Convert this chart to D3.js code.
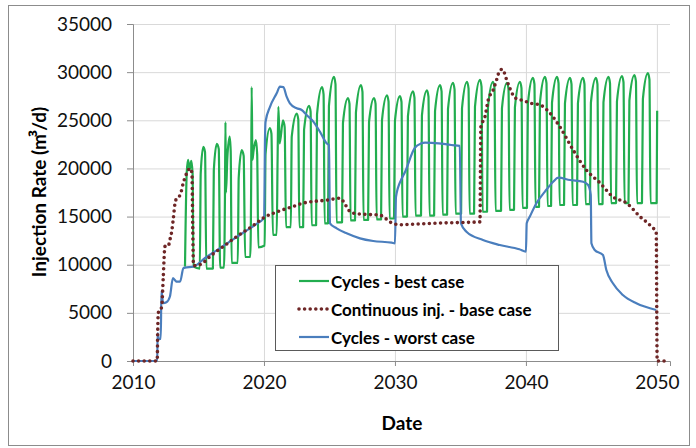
<!DOCTYPE html>
<html>
<head>
<meta charset="utf-8">
<script src="https://cdn.jsdelivr.net/npm/d3@7/dist/d3.min.js"></script>
<style>
  body { margin: 0; background: #fff; }
  text { font-family: Lato, "Open Sans", sans-serif; }
</style>
</head>
<body>
<svg width="696" height="448"></svg>
<script>
// Cycles - best case : [year, m3/d], one row per injection cycle
var bestCase = [
  [2013.97,9800],[2014.1,19500],[2014.2,20900],[2014.33,19900],[2014.45,20800],[2014.55,19500],[2014.62,9800],
  [2015.1,9600],[2015.17,19500],[2015.37,22250],[2015.5,21700],[2015.6,9600],
  [2016.1,9600],[2016.17,19800],[2016.4,22550],[2016.55,22000],[2016.65,9700],
  [2016.95,9700],[2017.02,17000],[2017.06,24800],[2017.1,17500],[2017.2,21000],[2017.38,23300],[2017.46,21800],[2017.53,10200],
  [2018.0,10200],[2018.07,19000],[2018.3,21900],[2018.45,21300],[2018.56,10800],
  [2018.95,10800],[2019.02,18000],[2019.06,28450],[2019.12,20900],[2019.2,21800],[2019.38,22950],[2019.48,21500],[2019.57,11800],
  [2020.05,12000],[2020.12,21500],[2020.45,24200],[2020.57,23600],[2020.68,13100],
  [2020.97,13100],[2021.04,21000],[2021.1,26400],[2021.2,22600],[2021.45,25000],[2021.58,24300],[2021.68,13900],
  [2022.05,13900],[2022.12,23300],[2022.5,25700],[2022.62,25100],[2022.7,13900],
  [2022.99,13900],[2023.06,24000],[2023.44,26500],[2023.56,25900],[2023.64,14100],
  [2023.98,14100],[2024.05,25600],[2024.43,28450],[2024.55,27700],[2024.63,14300],
  [2024.89,14300],[2024.96,26500],[2025.34,29500],[2025.46,28750],[2025.54,14400],
  [2025.96,14400],[2026.03,24700],[2026.41,27300],[2026.53,26700],[2026.61,14600],
  [2026.95,14600],[2027.02,25800],[2027.4,28650],[2027.52,27950],[2027.6,14650],
  [2027.95,14650],[2028.02,24800],[2028.4,27300],[2028.52,26700],[2028.6,14700],
  [2028.94,14700],[2029.01,25000],[2029.39,27600],[2029.51,26950],[2029.59,14800],
  [2029.93,14800],[2030.0,24950],[2030.38,27500],[2030.5,26900],[2030.58,15000],
  [2030.92,15000],[2030.99,25400],[2031.37,28000],[2031.49,27350],[2031.57,15100],
  [2031.99,15100],[2032.06,25500],[2032.44,28100],[2032.56,27450],[2032.64,15100],
  [2032.99,15100],[2033.06,25950],[2033.44,28650],[2033.56,28000],[2033.64,15200],
  [2033.98,15200],[2034.05,26150],[2034.43,28900],[2034.55,28200],[2034.63,15300],
  [2035.05,15300],[2035.12,26250],[2035.5,29000],[2035.62,28300],[2035.7,15300],
  [2036.04,15300],[2036.11,26400],[2036.49,29200],[2036.61,28500],[2036.69,15500],
  [2037.03,15500],[2037.1,26300],[2037.48,29000],[2037.6,28350],[2037.68,15600],
  [2038.1,15600],[2038.17,26250],[2038.55,28900],[2038.67,28250],[2038.75,15700],
  [2039.09,15700],[2039.16,26350],[2039.54,29000],[2039.66,28350],[2039.74,15900],
  [2040.08,15900],[2040.15,26700],[2040.53,29400],[2040.65,28750],[2040.73,16000],
  [2041.0,16000],[2041.07,26800],[2041.45,29500],[2041.57,28850],[2041.65,16100],
  [2041.92,16100],[2041.99,26800],[2042.37,29500],[2042.49,28850],[2042.57,16200],
  [2042.91,16200],[2042.98,26750],[2043.36,29400],[2043.48,28750],[2043.56,16200],
  [2043.9,16200],[2043.97,26750],[2044.35,29400],[2044.47,28750],[2044.55,16300],
  [2044.89,16300],[2044.96,26800],[2045.34,29400],[2045.46,28750],[2045.54,16300],
  [2045.85,16300],[2045.92,26850],[2046.3,29500],[2046.42,28850],[2046.5,16400],
  [2046.88,16400],[2046.95,26950],[2047.33,29600],[2047.45,28950],[2047.53,16400],
  [2047.83,16400],[2047.9,27050],[2048.28,29700],[2048.4,29050],[2048.48,16400],
  [2048.86,16400],[2048.93,27200],[2049.31,29900],[2049.43,29250],[2049.51,16400],
  [2049.98,16400],[2050.02,26000]
];

// Continuous inj. - base case
var baseCase = [
  [2010,0],[2011.85,0],[2011.88,2600],[2011.93,5000],[2012.19,5600],[2012.31,8700],[2012.44,11900],
  [2012.68,11900],[2012.82,12600],[2012.95,13400],[2013.08,14800],[2013.21,16400],[2013.34,16900],
  [2013.59,17200],[2013.84,18500],[2014.1,19500],[2014.35,20000],[2014.5,19500],[2014.56,14000],
  [2014.62,9900],[2015.1,10000],[2016,11000],[2017,12000],[2018,13000],[2019,13900],[2020,14900],
  [2021,15500],[2022.24,16050],[2023,16400],[2024,16600],[2024.8,16700],[2025.8,16900],[2026.1,16500],
  [2026.44,15700],[2026.82,15350],[2027.5,15250],[2028.85,15150],[2029.2,14900],[2029.6,14450],
  [2030.38,14150],[2032,14250],[2034,14350],[2036.49,14450],[2036.56,24300],[2036.87,25350],
  [2037.12,27100],[2037.5,28150],[2037.76,29200],[2038.02,30200],[2038.2,30300],[2038.53,29200],
  [2038.78,28300],[2039.2,27300],[2039.67,27100],[2040.43,26750],[2041.07,26600],[2041.83,25750],
  [2042.6,24300],[2043.61,21900],[2044.63,19800],[2045.65,18500],[2046.64,17050],[2047.69,16400],
  [2048.7,15000],[2049.47,14100],[2049.95,13300],[2050.02,0],[2050.8,0]
];

// Cycles - worst case
var worstCase = [
  [2010,0],[2011.85,0],[2011.88,2900],[2011.95,2300],[2012.12,2300],[2012.17,7300],[2012.3,6000],
  [2012.55,6100],[2012.82,6700],[2013.05,8600],[2013.2,8400],[2013.3,8250],[2013.6,8250],[2013.84,9630],
  [2013.97,9700],[2014.6,9800],[2015.5,10700],[2016.5,11600],[2017.5,12500],[2018.5,13400],[2019.5,14300],
  [2019.9,14700],[2020.02,15000],[2020.07,22300],[2020.12,24850],[2020.46,26400],[2020.97,27800],
  [2021.22,28500],[2021.48,28450],[2021.73,27450],[2021.98,26760],[2022.5,26250],[2022.88,26070],
  [2023.26,25550],[2023.77,24860],[2024.27,23820],[2024.78,22610],[2024.96,22430],[2025.04,14300],
  [2025.55,13780],[2026.31,13260],[2027.33,12740],[2028.34,12460],[2029.75,12290],[2030.0,12220],
  [2030.08,17060],[2030.5,18900],[2030.76,19600],[2031.5,22100],[2032.0,22600],[2032.3,22680],
  [2033.34,22610],[2034.3,22430],[2034.95,22350],[2035.04,14300],[2035.46,13430],[2036.72,12570],
  [2038.0,12050],[2039.5,11600],[2040.0,11350],[2040.06,14300],[2040.3,15000],[2040.8,16380],
  [2041.45,17590],[2042.08,18620],[2042.47,19040],[2043.36,18800],[2044.37,18620],[2044.75,18280],
  [2044.95,17240],[2045.0,12220],[2045.25,11530],[2045.88,11010],[2046.14,9450],[2046.64,8070],
  [2047.4,6850],[2048.43,5990],[2049.95,5300]
];

var seriesNames = ['Cycles - best case', 'Continuous inj. - base case', 'Cycles - worst case'];
var yearTicks = [2010, 2020, 2030, 2040, 2050];
var rateTicks = [0, 5000, 10000, 15000, 20000, 25000, 30000, 35000];

var green = '#22ad4f', brown = '#6e2626', blue = '#4a7ebd';

var svg = d3.select('svg');

// outer frame
svg.append('rect')
   .attr('x', 8.5).attr('y', 5.5)
   .attr('width', 681).attr('height', 440)
   .attr('fill', 'none')
   .attr('stroke', '#8c8c8c');

var x = d3.scaleLinear().domain([2010, 2051]).range([133, 670]);
var y = d3.scaleLinear().domain([0, 35000]).range([361, 24]);

// gridlines
svg.append('g')
   .attr('transform', 'translate(133,0)')
   .call(d3.axisLeft(y).tickValues(rateTicks).tickSize(-(670 - 133)).tickFormat(''))
   .call(function(g){
     g.select('.domain').remove();
     g.selectAll('line').attr('stroke', '#d9d9d9');
   });
svg.append('g')
   .attr('transform', 'translate(0,361)')
   .call(d3.axisBottom(x).tickValues(yearTicks).tickSize(-(361 - 24)).tickFormat(''))
   .call(function(g){
     g.select('.domain').remove();
     g.selectAll('line').attr('stroke', '#d9d9d9');
   });

// axes
var yAxis = svg.append('g')
   .attr('transform', 'translate(133,0)')
   .call(d3.axisLeft(y).tickValues(rateTicks).tickSize(6).tickPadding(15).tickFormat(d3.format('d')));
var xAxis = svg.append('g')
   .attr('transform', 'translate(0,361)')
   .call(d3.axisBottom(x).tickValues(yearTicks).tickSize(5).tickPadding(10).tickFormat(d3.format('d')));

[yAxis, xAxis].forEach(function(g){
  g.select('.domain').attr('stroke', '#8c8c8c');
  g.selectAll('line').attr('stroke', '#8c8c8c');
  g.selectAll('text')
   .attr('fill', '#111')
   .style('font-size', '19px')
   .style('font-family', 'Lato, sans-serif');
});

// series
var line = d3.line()
             .x(function(d){ return x(d[0]); })
             .y(function(d){ return y(d[1]); })
             .curve(d3.curveMonotoneX);

svg.append('path')
   .datum(bestCase)
   .attr('d', line)
   .attr('fill', 'none')
   .attr('stroke', green)
   .attr('stroke-width', 2.2)
   .attr('stroke-linejoin', 'round');

svg.append('path')
   .datum(worstCase)
   .attr('d', line)
   .attr('fill', 'none')
   .attr('stroke', blue)
   .attr('stroke-width', 2.2)
   .attr('stroke-linejoin', 'round');

svg.append('path')
   .datum(baseCase)
   .attr('d', line)
   .attr('fill', 'none')
   .attr('stroke', brown)
   .attr('stroke-width', 3.6)
   .attr('stroke-linecap', 'round')
   .attr('stroke-dasharray', '0 5.6');

// axis titles
var yTitle = svg.append('text')
   .attr('transform', 'translate(38,192) rotate(-90)')
   .attr('text-anchor', 'middle')
   .attr('dominant-baseline', 'central')
   .style('font-size', '19px')
   .style('font-weight', 'bold');
yTitle.append('tspan').text('Injection Rate (m');
yTitle.append('tspan').attr('dx', -3).style('font-family', '"Open Sans", sans-serif').text('³');
yTitle.append('tspan').attr('dx', -1).text('/d)');

svg.append('text')
   .attr('x', 402).attr('y', 422)
   .attr('text-anchor', 'middle')
   .attr('dominant-baseline', 'central')
   .style('font-size', '19px')
   .style('font-weight', 'bold')
   .text('Date');

// legend
var legend = svg.append('g');
legend.append('rect')
      .attr('x', 275.5).attr('y', 265.5)
      .attr('width', 283).attr('height', 85)
      .attr('fill', '#fff')
      .attr('stroke', '#5a5a5a');

var styles = [
  {stroke: green, width: 2.2, dash: null, cap: 'butt'},
  {stroke: brown, width: 3.6, dash: '0 5.6', cap: 'round'},
  {stroke: blue, width: 2.2, dash: null, cap: 'butt'}
];

var rows = legend.selectAll('g.row')
      .data(seriesNames)
      .enter()
      .append('g')
      .attr('class', 'row')
      .attr('transform', function(d, i){ return 'translate(0,' + (281 + i * 28) + ')'; });

rows.append('line')
    .attr('x1', 299).attr('x2', 329)
    .attr('stroke', function(d, i){ return styles[i].stroke; })
    .attr('stroke-width', function(d, i){ return styles[i].width; })
    .attr('stroke-dasharray', function(d, i){ return styles[i].dash; })
    .attr('stroke-linecap', function(d, i){ return styles[i].cap; });

rows.append('text')
    .attr('x', 331)
    .attr('dominant-baseline', 'central')
    .style('font-size', '17px')
    .style('font-weight', 'bold')
    .text(function(d){ return d; });
</script>
</body>
</html>
